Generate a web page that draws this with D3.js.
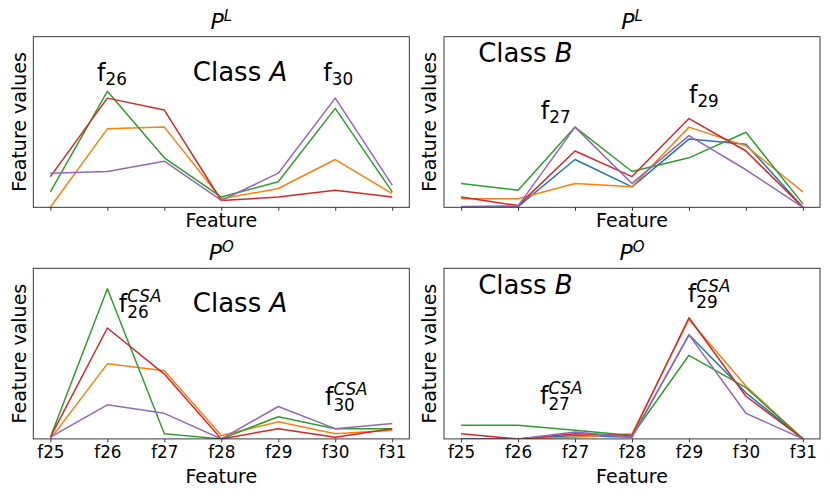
<!DOCTYPE html>
<html><head><meta charset="utf-8">
<script src="https://cdn.jsdelivr.net/npm/d3@7"></script>
<style>
html,body{margin:0;padding:0;background:#fff;}
text{font-family:"DejaVu Sans",sans-serif;fill:#000;}
</style></head>
<body><svg id="c" width="830" height="498"></svg>
<script>
// ---- data ----
const features = ["f25","f26","f27","f28","f29","f30","f31"];
const seriesColorsA = ["#ff7f0e","#2ca02c","#d62728","#9467bd"];
const seriesColorsB = ["#1f77b4","#ff7f0e","#2ca02c","#d62728","#9467bd"];

// P^L, class A (orange, green, red, purple)
const plA = [
  [0.00,0.46,0.47,0.05,0.11,0.28,0.08],
  [0.09,0.68,0.29,0.06,0.15,0.58,0.09],
  [0.18,0.64,0.57,0.04,0.06,0.10,0.06],
  [0.20,0.21,0.27,0.04,0.20,0.64,0.13]
];
// P^L, class B (blue, orange, green, red, purple)
const plB = [
  [0.00,0.004,0.28,0.12,0.40,0.37,0.00],
  [0.05,0.05,0.14,0.12,0.47,0.36,0.09],
  [0.14,0.10,0.47,0.21,0.29,0.44,0.02],
  [0.06,0.01,0.33,0.18,0.52,0.33,0.00],
  [0.004,0.008,0.47,0.14,0.42,0.22,0.00]
];
// P^O, class A
const poA = [
  [0.00,0.44,0.40,0.02,0.10,0.03,0.05],
  [0.01,0.88,0.03,0.00,0.13,0.06,0.06],
  [0.01,0.65,0.38,0.00,0.06,0.01,0.06],
  [0.01,0.20,0.15,0.00,0.19,0.06,0.09]
];
// P^O, class B
const poB = [
  [0.00,0.00,0.02,0.01,0.61,0.27,0.00],
  [0.00,0.00,0.01,0.03,0.70,0.31,0.00],
  [0.08,0.08,0.05,0.02,0.49,0.30,0.00],
  [0.03,0.00,0.03,0.02,0.71,0.25,0.00],
  [0.00,0.00,0.04,0.01,0.61,0.15,0.00]
];
const titles = ["L","L","O","O"];
// annotations: [x (feature index units), y (value units), main, sup, sub]
const annTL = [[0.82,0.74,"f","","26"],[4.79,0.74,"f","","30"]];
const annTR = [[1.40,0.516,"f","","27"],[4.00,0.61,"f","","29"]];
const annBL = [[1.20,0.746,"f","CSA","26"],[4.82,0.199,"f","CSA","30"]];
const annBR = [[3.98,0.804,"f","CSA","29"],[1.385,0.205,"f","CSA","27"]];
const classLabels = [["A",2.50,0.742],["B",0.30,0.85],["A",2.50,0.744],["B",0.30,0.849]];

// ---- drawing ----
const svg = d3.select("#c");
const panels = [
  {data:plA, colors:seriesColorsA, x0:33.3, y0:36.7, ann:annTL, ticks:false},
  {data:plB, colors:seriesColorsB, x0:444,  y0:36.7, ann:annTR, ticks:false},
  {data:poA, colors:seriesColorsA, x0:33.3, y0:268.3, ann:annBL, ticks:true},
  {data:poB, colors:seriesColorsB, x0:444,  y0:268.3, ann:annBR, ticks:true}
];
const W = 376, H = 170.6;

panels.forEach((p,i)=>{
  const g = svg.append("g").attr("transform",`translate(${p.x0},${p.y0})`);
  const x = d3.scalePoint().domain(features).range([0.3*W/6.6, W-0.3*W/6.6]);
  const xi = d3.scaleLinear().domain([-0.3,6.3]).range([0,W]);
  const y = d3.scaleLinear().domain([0,1]).range([H,0]);

  g.append("clipPath").attr("id","clip"+i).append("rect").attr("width",W).attr("height",H);
  const line = d3.line().x((d,j)=>x(features[j])).y(d=>y(d));
  g.append("g").attr("clip-path",`url(#clip${i})`)
    .selectAll("path").data(p.data).join("path")
    .attr("d",line).attr("fill","none")
    .attr("stroke",(d,j)=>p.colors[j]).attr("stroke-width",1.5)
    .attr("stroke-linejoin","round");

  // frame
  g.append("rect").attr("width",W).attr("height",H).attr("fill","none")
    .attr("stroke","#222").attr("stroke-width",0.9);

  // x axis
  const ax = g.append("g").attr("transform",`translate(0,${H})`)
    .call(d3.axisBottom(x).tickSize(3.5).tickPadding(3.5).tickFormat(p.ticks?(d=>d):(()=> "")));
  ax.select(".domain").remove();
  ax.selectAll("line").attr("stroke","#222").attr("stroke-width",0.9);
  ax.selectAll("text").style("font-size","16.8px").attr("fill","#000")
    .style("font-family","'DejaVu Sans',sans-serif");

  // axis labels
  g.append("text").attr("x",W/2).attr("y",p.ticks?214.5:190.3).attr("text-anchor","middle")
    .style("font-size","19px").text("Feature");
  g.append("text").attr("transform",`translate(${i%2===0?-7.3:-8},${H/2}) rotate(-90)`)
    .attr("text-anchor","middle").style("font-size","19px").text("Feature values");

  // title
  const t = g.append("text").attr("x",W/2).attr("y",-8).attr("text-anchor","middle")
    .style("font-size","22px");
  t.append("tspan").style("font-style","italic").text("P");
  t.append("tspan").style("font-style","italic").style("font-size","15px").attr("dy",-8).text(titles[i]);

  // class label
  const c = classLabels[i];
  const ct = g.append("text").attr("x",xi(c[1])).attr("y",y(c[2])).style("font-size","26px");
  ct.append("tspan").text("Class ");
  ct.append("tspan").style("font-style","italic").text(c[0]);

  // annotations (one text element each)
  p.ann.forEach(a=>{
    const ax0 = xi(a[0]), ay0 = y(a[1]);
    const m = g.append("text").attr("x",ax0).attr("y",ay0).style("font-size","24px");
    const mt = m.append("tspan").text(a[2]);
    const mw = mt.node().getComputedTextLength();
    if(a[3]){
      m.append("tspan").attr("x",ax0+mw).attr("y",ay0-9.5).style("font-size","16.8px")
        .style("font-style","italic").text(a[3]);
      m.append("tspan").attr("x",ax0+mw).attr("y",ay0+6.5).style("font-size","16.8px").text(a[4]);
    } else {
      m.append("tspan").attr("x",ax0+mw).attr("y",ay0+3.5).style("font-size","16.8px").text(a[4]);
    }
  });
});
</script></body></html>
